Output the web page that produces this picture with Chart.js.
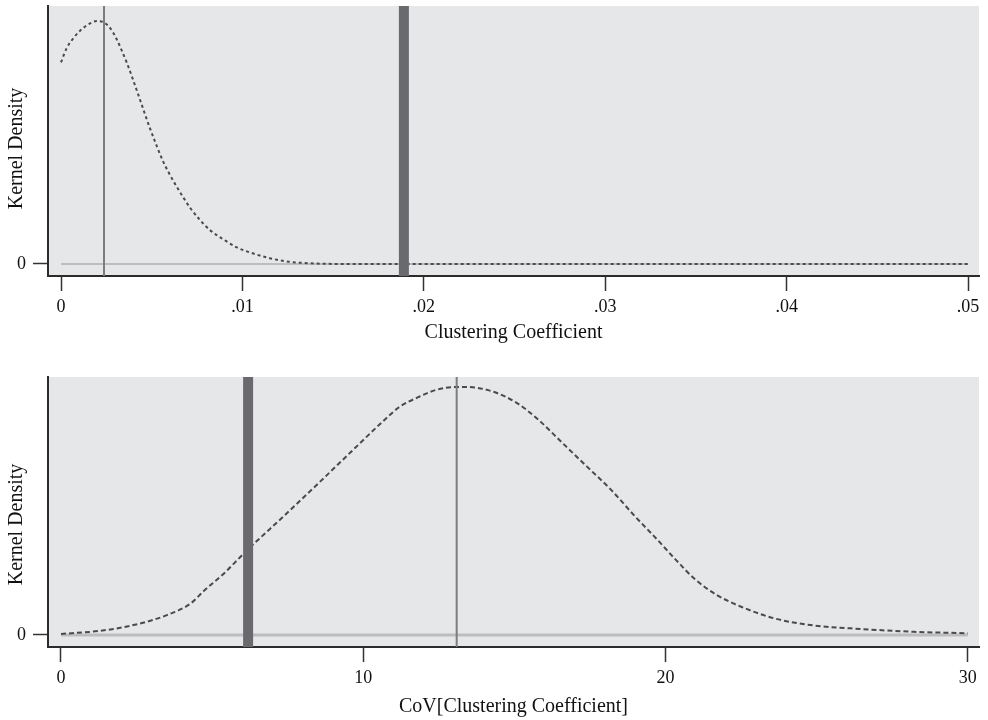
<!DOCTYPE html>
<html>
<head>
<meta charset="utf-8">
<script src="https://cdn.jsdelivr.net/npm/chart.js@4/dist/chart.umd.min.js"></script>
<style>
  body { margin: 0; background: #ffffff; }
  canvas { display: block; }
</style>
</head>
<body>
<canvas id="clustering" width="988" height="350"></canvas>
<canvas id="cov" width="988" height="360" style="margin-top:10px"></canvas>
<script>
/* Dane: gęstość jądrowa (znormalizowana do maksimum) */
var topX = [0, 0.00031, 0.00068, 0.00105, 0.0016, 0.00197, 0.00233, 0.0027, 0.00307, 0.00335,
    0.00362, 0.00384, 0.00408, 0.00436, 0.00463, 0.00491, 0.00528, 0.00564, 0.00601, 0.00638,
    0.00674, 0.00711, 0.00766, 0.0082, 0.009, 0.0097, 0.0106, 0.0115, 0.0124, 0.0134,
    0.0145, 0.016, 0.02, 0.03, 0.04, 0.05];
var topDensity = [0.83, 0.888, 0.929, 0.96, 0.99, 1.0, 0.995, 0.972, 0.925, 0.878,
    0.83, 0.786, 0.735, 0.675, 0.616, 0.557, 0.485, 0.42, 0.366, 0.318,
    0.274, 0.232, 0.181, 0.14, 0.099, 0.068, 0.043, 0.024, 0.011, 0.004,
    0.001, 0, 0, 0, 0, 0];
var topTicks = [0, 0.01, 0.02, 0.03, 0.04, 0.05];
var topMean = 0.00237;      // cienka linia
var topObserved = 0.0189;   // gruba linia

var bottomX = [0, 1.3, 2.4, 3.5, 4.3, 4.7, 5.4, 6.0, 6.4, 7.35, 8.5, 9.6, 10.7, 11.2, 11.8,
    12.4, 13.1, 13.4, 14.3, 15.1, 15.8, 16.6, 17.4, 18.2, 19.0, 19.7, 20.35, 21.0,
    21.7, 22.5, 23.6, 24.8, 26.5, 28.2, 30];
var bottomDensity = [0.004, 0.017, 0.04, 0.08, 0.128, 0.175, 0.249, 0.323, 0.37, 0.477,
    0.61, 0.739, 0.867, 0.92, 0.958, 0.988, 1.0, 1.0, 0.981, 0.934, 0.867, 0.773,
    0.679, 0.585, 0.477, 0.388, 0.302, 0.222, 0.161, 0.114, 0.067, 0.04, 0.024, 0.013, 0.007];
var bottomTicks = [0, 10, 20, 30];
var bottomMean = 13.09;
var bottomObserved = 6.19;

var FONT = "'Liberation Serif', 'DejaVu Serif', serif";

/* Tło obszaru wykresu */
var plotBackground = {
    id: 'plotBackground',
    beforeDraw: function (chart) {
        var a = chart.chartArea;
        var ctx = chart.ctx;
        ctx.save();
        ctx.fillStyle = '#e6e7e9';
        ctx.fillRect(a.left, a.top, a.right - a.left, a.bottom - a.top);
        ctx.restore();
    }
};

function pairs(xs, ys) {
    return xs.map(function (x, i) { return { x: x, y: ys[i] }; });
}

function densityChart(ctx, cfg) {
    return new Chart(ctx, {
        type: 'line',
        data: {
            datasets: [
                {
                    data: [{ x: cfg.observed, y: cfg.yMin }, { x: cfg.observed, y: cfg.yMax }],
                    borderColor: '#6a6a6e',
                    borderWidth: 10,
                    pointRadius: 0
                },
                {
                    data: [{ x: cfg.mean, y: cfg.yMin }, { x: cfg.mean, y: cfg.yMax }],
                    borderColor: '#7d7d7d',
                    borderWidth: 2,
                    pointRadius: 0
                },
                {
                    data: pairs(cfg.xs, cfg.ys),
                    borderColor: '#4a4a4e',
                    borderWidth: 2,
                    borderDash: cfg.dash,
                    pointRadius: 0,
                    cubicInterpolationMode: 'monotone'
                },
                {
                    data: [{ x: cfg.ticks[0], y: 0 }, { x: cfg.ticks[cfg.ticks.length - 1], y: 0 }],
                    borderColor: '#bdbdbf',
                    borderWidth: cfg.zeroWidth,
                    pointRadius: 0
                }
            ]
        },
        options: {
            responsive: false,
            maintainAspectRatio: false,
            animation: false,
            events: [],
            layout: { padding: { top: cfg.padTop, right: 9, left: 0, bottom: 0 } },
            plugins: { legend: { display: false }, tooltip: { enabled: false } },
            scales: {
                x: {
                    type: 'linear',
                    min: cfg.xMin,
                    max: cfg.xMax,
                    afterFit: function (scale) {
                        scale.height = cfg.xHeight;
                        scale.paddingLeft = 0;
                        scale.paddingRight = 0;
                    },
                    afterBuildTicks: function (scale) {
                        scale.ticks = cfg.ticks.map(function (v) { return { value: v }; });
                    },
                    border: { display: true, color: '#2b2b2b', width: 2 },
                    grid: { drawOnChartArea: false, drawTicks: true, tickLength: 15, tickColor: '#333333', tickWidth: 1.5 },
                    ticks: {
                        padding: 5,
                        maxRotation: 0,
                        color: '#111111',
                        font: { family: FONT, size: 18 },
                        callback: cfg.format
                    },
                    title: {
                        display: true,
                        text: cfg.xTitle,
                        color: '#111111',
                        font: { family: FONT, size: 20 },
                        padding: { top: 0, bottom: cfg.titlePad }
                    }
                },
                y: {
                    min: cfg.yMin,
                    max: cfg.yMax,
                    afterFit: function (scale) {
                        scale.width = 48;
                        scale.paddingTop = 0;
                        scale.paddingBottom = 0;
                    },
                    afterBuildTicks: function (scale) { scale.ticks = [{ value: 0 }]; },
                    border: { display: true, color: '#2b2b2b', width: 2 },
                    grid: { drawOnChartArea: false, drawTicks: true, tickLength: 15, tickColor: '#333333', tickWidth: 1.5 },
                    ticks: {
                        padding: 7,
                        color: '#111111',
                        font: { family: FONT, size: 18 },
                        callback: function (v) { return String(v); }
                    },
                    title: {
                        display: true,
                        text: cfg.yTitle,
                        color: '#111111',
                        font: { family: FONT, size: 20 },
                        padding: { top: 5, bottom: 0 }
                    }
                }
            }
        },
        plugins: [plotBackground]
    });
}

var chartClustering = densityChart(document.getElementById('clustering'), {
    xs: topX, ys: topDensity, ticks: topTicks,
    mean: topMean, observed: topObserved,
    xMin: -0.000717, xMax: 0.0506, yMin: -0.0494, yMax: 1.0617,
    padTop: 6, xHeight: 74, titlePad: 5.6, zeroWidth: 2, dash: [3, 3],
    xTitle: 'Clustering Coefficient', yTitle: 'Kernel Density   ',
    format: function (v) { return v === 0 ? '0' : v.toFixed(2).replace(/^0/, ''); }
});

var chartCov = densityChart(document.getElementById('cov'), {
    xs: bottomX, ys: bottomDensity, ticks: bottomTicks,
    mean: bottomMean, observed: bottomObserved,
    xMin: -0.43, xMax: 30.37, yMin: -0.0484, yMax: 1.0403,
    padTop: 17, xHeight: 73, titlePad: 1.6, zeroWidth: 3, dash: [5, 3],
    xTitle: 'CoV[Clustering Coefficient]', yTitle: 'Kernel Density     ',
    format: function (v) { return String(v); }
});
</script>
</body>
</html>
